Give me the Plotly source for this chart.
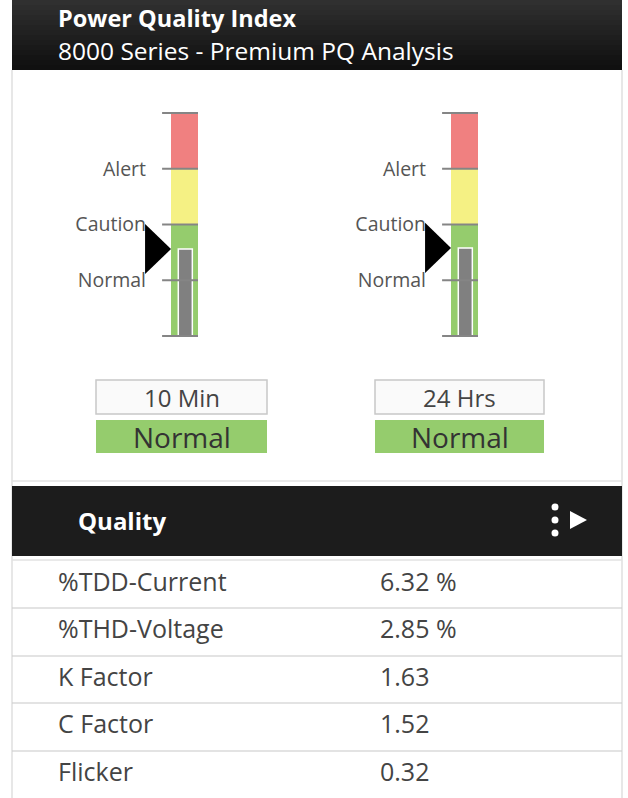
import plotly.graph_objects as go

# ---------------- data ----------------
zone_names = ["Normal", "Caution", "Alert"]
zone_bounds = [0, 2, 3, 4]
zone_colors = ["#95CC6D", "#F5F184", "#F08080"]
tick_vals = [1, 2, 3]
tick_text = ["Normal", "Caution", "Alert"]
gauge_periods = ["10 Min", "24 Hrs"]
gauge_values = [1.56, 1.58]
gauge_status = ["Normal", "Normal"]
quality_metrics = ["%TDD-Current", "%THD-Voltage", "K Factor", "C Factor", "Flicker"]
quality_values = ["6.32 %", "2.85 %", "1.63", "1.52", "0.32"]

W, H = 628, 798
FONT = "Open Sans"


def px(x):
    return x / W


def py(y):
    return 1 - y / H


fig = go.Figure()
shapes = []
annotations = []

# ---------------- header band (simulated gradient) ----------------
n_bands = 14
for i in range(n_bands):
    t = i / (n_bands - 1)
    c = int(0x30 + (0x10 - 0x30) * t)
    shapes.append(dict(type="rect", xref="paper", yref="paper",
                       x0=px(12), x1=px(622), y0=py(70 * (i + 1) / n_bands), y1=py(70 * i / n_bands),
                       fillcolor=f"rgb({c},{c},{c})", line=dict(width=0), layer="below"))
annotations.append(dict(text="<b>Power Quality Index</b>", x=px(56), y=py(18), xref="paper", yref="paper",
                        xanchor="left", yanchor="middle", showarrow=False,
                        font=dict(family=FONT, size=23.5, color="white")))
annotations.append(dict(text="8000 Series - Premium PQ Analysis", x=px(56), y=py(50.5), xref="paper", yref="paper",
                        xanchor="left", yanchor="middle", showarrow=False,
                        font=dict(family=FONT, size=24.5, color="white")))

# panel borders
for xb in (12, 622):
    shapes.append(dict(type="line", xref="paper", yref="paper", x0=px(xb), x1=px(xb), y0=0, y1=py(70),
                       line=dict(color="#cfcfcf", width=1)))
for yl in (481, 560):
    shapes.append(dict(type="line", xref="paper", yref="paper", x0=px(12), x1=px(622), y0=py(yl), y1=py(yl),
                       line=dict(color="#e2e2e2", width=1.5)))

# ---------------- gauges ----------------
bar_left = [171, 451]
bar_w = 27
ppu = (336 - 113) / 4.0  # pixels per unit
xr = [-1.2, 1.0]
yr = [-0.05, 4.05]
box_x = [(96, 267), (375, 544)]

for g in range(2):
    sfx = "" if g == 0 else str(g + 1)
    xa, ya = "x" + sfx, "y" + sfx
    d0 = bar_left[g] + xr[0] * bar_w
    d1 = bar_left[g] + xr[1] * bar_w
    ytop = 113 - (yr[1] - 4) * ppu
    ybot = 336 + (0 - yr[0]) * ppu

    # zone bars
    fig.add_trace(go.Bar(x=[0.5] * 3, y=[zone_bounds[i + 1] - zone_bounds[i] for i in range(3)],
                         base=zone_bounds[:3], width=1.0,
                         marker=dict(color=zone_colors, line=dict(width=0)),
                         xaxis=xa, yaxis=ya, showlegend=False, hoverinfo="skip"))
    # value bar
    fig.add_trace(go.Bar(x=[0.53], y=[gauge_values[g]], base=[0], width=0.52,
                         marker=dict(color="#808080", line=dict(color="white", width=1.5)),
                         xaxis=xa, yaxis=ya, showlegend=False, hoverinfo="skip"))
    # pointer triangle
    v = gauge_values[g]
    fig.add_trace(go.Scatter(x=[0, -0.96, -0.96, 0], y=[v, v + 0.45, v - 0.45, v],
                             fill="toself", fillcolor="black", mode="lines", line=dict(width=0, color="black"),
                             xaxis=xa, yaxis=ya, showlegend=False, hoverinfo="skip"))
    # tick lines across gauge
    for b in zone_bounds + [1]:
        shapes.append(dict(type="line", xref=xa, yref=ya, x0=-0.33, x1=1.0, y0=b, y1=b,
                           line=dict(color="#858585", width=2), layer="above"))

    fig.update_layout({
        "xaxis" + sfx: dict(domain=[px(d0), px(d1)], range=xr, visible=False, anchor=ya, fixedrange=True),
        "yaxis" + sfx: dict(domain=[py(ybot), py(ytop)], range=yr, anchor="free", position=px(bar_left[g]),
                            tickvals=tick_vals, ticktext=tick_text, ticks="", showgrid=False,
                            zeroline=False, showline=False, ticklabelstandoff=25,
                            tickfont=dict(family=FONT, size=19.5, color="#555555"), fixedrange=True),
    })

    # period box and status box
    bx0, bx1 = box_x[g]
    shapes.append(dict(type="rect", xref="paper", yref="paper", x0=px(bx0), x1=px(bx1), y0=py(414), y1=py(380),
                       fillcolor="#fafafa", line=dict(color="#c8c8c8", width=1.5)))
    shapes.append(dict(type="rect", xref="paper", yref="paper", x0=px(bx0), x1=px(bx1), y0=py(453), y1=py(420),
                       fillcolor="#95CC6D", line=dict(width=0)))
    annotations.append(dict(text=gauge_periods[g], x=px((bx0 + bx1) / 2), y=py(397), xref="paper", yref="paper",
                            xanchor="center", yanchor="middle", showarrow=False,
                            font=dict(family=FONT, size=24, color="#444444")))
    annotations.append(dict(text=gauge_status[g], x=px((bx0 + bx1) / 2), y=py(437), xref="paper", yref="paper",
                            xanchor="center", yanchor="middle", showarrow=False,
                            font=dict(family=FONT, size=28, color="#333333")))

# ---------------- Quality band ----------------
shapes.append(dict(type="rect", xref="paper", yref="paper", x0=px(12), x1=px(622), y0=py(556), y1=py(486),
                   fillcolor="#1c1c1c", line=dict(width=0)))
annotations.append(dict(text="<b>Quality</b>", x=px(76), y=py(520), xref="paper", yref="paper",
                        xanchor="left", yanchor="middle", showarrow=False,
                        font=dict(family=FONT, size=24, color="white")))
for cy in (507, 520, 533):
    shapes.append(dict(type="circle", xref="paper", yref="paper", x0=px(551.5), x1=px(558.5), y0=py(cy + 3.5),
                       y1=py(cy - 3.5), fillcolor="white", line=dict(width=0)))
shapes.append(dict(type="path", xref="paper", yref="paper",
                   path=f"M{px(570)},{py(511)} L{px(587)},{py(520)} L{px(570)},{py(529)} Z",
                   fillcolor="white", line=dict(width=0)))

# ---------------- table ----------------
rows = list(range(len(quality_metrics)))
fig.add_trace(go.Scatter(x=[46] * len(rows), y=rows, text=quality_metrics, mode="text",
                         textposition="middle right", textfont=dict(family=FONT, size=25, color="#444444"),
                         xaxis="x3", yaxis="y3", showlegend=False, hoverinfo="skip", cliponaxis=False))
fig.add_trace(go.Scatter(x=[368] * len(rows), y=rows, text=quality_values, mode="text",
                         textposition="middle right", textfont=dict(family=FONT, size=25, color="#444444"),
                         xaxis="x3", yaxis="y3", showlegend=False, hoverinfo="skip", cliponaxis=False))
fig.update_layout(
    xaxis3=dict(domain=[px(12), px(622)], range=[0, 610], visible=False, anchor="y3", fixedrange=True),
    yaxis3=dict(domain=[0, py(561)], range=[len(rows) - 0.5, -0.5], anchor="x3",
                tickvals=[r - 0.5 for r in range(len(rows) + 1)], showticklabels=False, ticks="",
                showgrid=True, gridcolor="#e3e3e3", gridwidth=1.5, zeroline=False, showline=False,
                fixedrange=True),
)

fig.update_layout(
    width=W, height=H, margin=dict(l=0, r=0, t=0, b=0),
    paper_bgcolor="white", plot_bgcolor="rgba(0,0,0,0)",
    barmode="overlay", shapes=shapes, annotations=annotations,
    font=dict(family=FONT),
)

fig.write_html("out.html", config={"displayModeBar": False},
               post_script="document.body.style.margin='0';")
